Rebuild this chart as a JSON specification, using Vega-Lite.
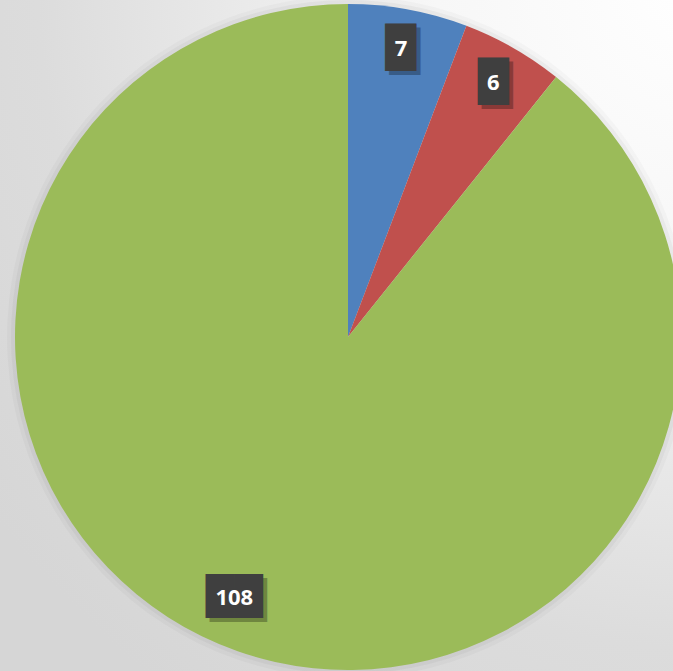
{
  "$schema": "https://vega.github.io/schema/vega-lite/v6.json",
  "width": 650,
  "height": 668,
  "autosize": "none",
  "padding": {"left": 23, "top": 3, "right": 0, "bottom": 0},
  "background": "#dedede",
  "data": {"values": [
    {"category": "A", "value": 7, "order": 1},
    {"category": "B", "value": 6, "order": 2},
    {"category": "C", "value": 108, "order": 3}
  ]},
  "layer": [
    {
      "data": {"values": [{"bg": 1}]},
      "mark": {"type": "rect", "x": {"expr": "-30"}, "x2": {"expr": "width + 30"}, "y": {"expr": "-10"}, "y2": {"expr": "height + 10"},
        "fill": {"gradient": "radial", "x1": 1, "y1": 0, "r1": 0, "x2": 1, "y2": 0, "r2": 1.25,
        "stops": [{"offset": 0, "color": "#ffffff"}, {"offset": 0.3, "color": "#f7f7f7"}, {"offset": 0.75, "color": "#dcdcdc"}, {"offset": 1, "color": "#d6d6d6"}]}},
      "encoding": {}
    },
    {
      "mark": {"type": "arc", "outerRadius": 341, "color": "#000000", "opacity": 0.025},
      "encoding": {"theta": {"field": "value", "type": "quantitative", "stack": true}, "order": {"field": "order"}}
    },
    {
      "mark": {"type": "arc", "outerRadius": 337, "color": "#000000", "opacity": 0.035},
      "encoding": {"theta": {"field": "value", "type": "quantitative", "stack": true}, "order": {"field": "order"}}
    },
    {
      "mark": {"type": "arc", "outerRadius": 333},
      "encoding": {
        "theta": {"field": "value", "type": "quantitative", "stack": true},
        "order": {"field": "order"},
        "color": {"field": "category", "type": "nominal", "legend": null,
          "scale": {"domain": ["A", "B", "C"], "range": ["#4f81bd", "#c0504d", "#9bbb59"]}}
      }
    },
    {
      "mark": {"type": "text", "radius": 293, "color": "#000000", "opacity": 0.28, "font": "DejaVu Sans", "fontSize": 40, "baseline": "middle", "align": "center", "dx": 4, "dy": 4},
      "encoding": {
        "theta": {"field": "value", "type": "quantitative", "stack": true},
        "order": {"field": "order"},
        "text": {"condition": {"test": "datum.value >= 100", "value": ""}, "value": "█"}
      }
    },
    {
      "mark": {"type": "text", "radius": 293, "color": "#3f3f3f", "font": "DejaVu Sans", "fontSize": 40, "baseline": "middle", "align": "center"},
      "encoding": {
        "theta": {"field": "value", "type": "quantitative", "stack": true},
        "order": {"field": "order"},
        "text": {"condition": {"test": "datum.value >= 100", "value": ""}, "value": "█"}
      }
    },
    {
      "mark": {"type": "text", "radius": 293, "color": "#ffffff", "font": "Open Sans", "fontWeight": "bold", "fontSize": 22, "baseline": "middle", "align": "center"},
      "encoding": {
        "theta": {"field": "value", "type": "quantitative", "stack": true},
        "order": {"field": "order"},
        "text": {"condition": {"test": "datum.value >= 100", "value": ""}, "field": "value", "type": "quantitative"}
      }
    },
    {
      "mark": {"type": "text", "radius": 285, "thetaOffset": 0.073, "color": "#000000", "opacity": 0.28, "font": "DejaVu Sans", "fontSize": 37, "baseline": "middle", "align": "center", "dx": 4, "dy": 4},
      "encoding": {
        "theta": {"field": "value", "type": "quantitative", "stack": true},
        "order": {"field": "order"},
        "text": {"condition": {"test": "datum.value >= 100", "value": "██"}, "value": ""}
      }
    },
    {
      "mark": {"type": "text", "radius": 285, "thetaOffset": 0.073, "color": "#3f3f3f", "font": "DejaVu Sans", "fontSize": 37, "baseline": "middle", "align": "center"},
      "encoding": {
        "theta": {"field": "value", "type": "quantitative", "stack": true},
        "order": {"field": "order"},
        "text": {"condition": {"test": "datum.value >= 100", "value": "██"}, "value": ""}
      }
    },
    {
      "mark": {"type": "text", "radius": 285, "thetaOffset": 0.073, "color": "#ffffff", "font": "Open Sans", "fontWeight": "bold", "fontSize": 22, "baseline": "middle", "align": "center"},
      "encoding": {
        "theta": {"field": "value", "type": "quantitative", "stack": true},
        "order": {"field": "order"},
        "text": {"condition": {"test": "datum.value >= 100", "field": "value", "type": "quantitative"}, "value": ""}
      }
    }
  ]
}
